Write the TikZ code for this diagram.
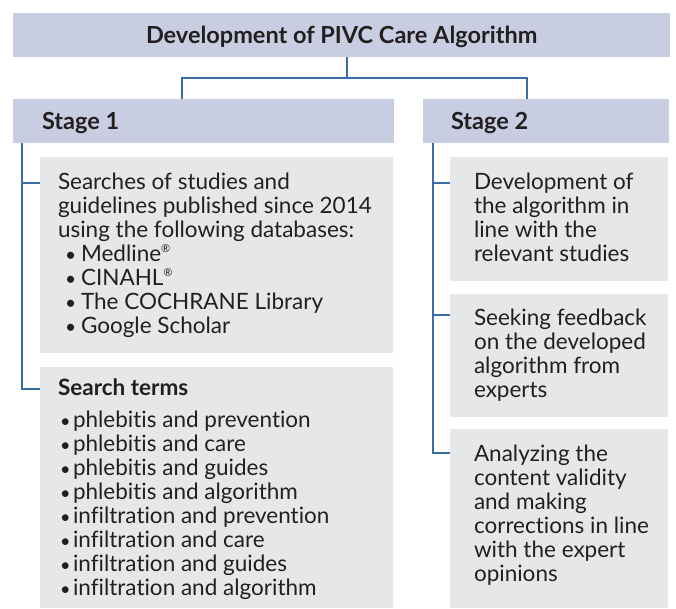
\documentclass[tikz,border=0pt]{standalone}
\usepackage{fontspec}
\setmainfont{Lato}[Ligatures={NoCommon,NoDiscretionary,NoContextual}]
\definecolor{hdr}{HTML}{C8CDE2}
\definecolor{gbox}{HTML}{E6E7E9}
\definecolor{lnk}{HTML}{3A6EA5}
\definecolor{txt}{HTML}{231F20}
\newcommand{\dbul}{\makebox[23pt][l]{\hspace{7pt}\scalebox{0.85}{•}}}
\newcommand{\sbul}{\makebox[15pt][l]{\hspace{2pt}\scalebox{0.8}{•}}}
\newcommand{\regm}{\raisebox{0.75ex}{\fontsize{11}{12}\selectfont ®}}
\begin{document}
\begin{tikzpicture}[x=1pt,y=-1pt,
  hdrbox/.style={fill=hdr,draw=none,inner sep=0pt,outer sep=0pt},
  graybox/.style={fill=gbox,draw=none,inner sep=0pt,outer sep=0pt},
  bodytext/.style={inner sep=0pt,outer sep=0pt,anchor=base west,align=left,text=txt,
    font=\fontsize{22.5}{24}\selectfont},
  headtext/.style={inner sep=0pt,outer sep=0pt,anchor=base west,text=txt,
    font=\fontsize{23.5}{24}\selectfont\bfseries},
  link/.style={draw=lnk,line width=1.1pt}]
\useasboundingbox (0,0) rectangle (676,608);
% boxes
\node[hdrbox,minimum width=657pt,minimum height=44pt] (top) at (341.5,35) {};
\node[hdrbox,minimum width=381pt,minimum height=44pt] (s1) at (203.5,121) {};
\node[hdrbox,minimum width=246pt,minimum height=44pt] (s2) at (546,121) {};
\node[graybox,minimum width=353pt,minimum height=196pt] (b1) at (216.5,255) {};
\node[graybox,minimum width=353pt,minimum height=241pt] (b2) at (216.5,487.5) {};
\node[graybox,minimum width=218pt,minimum height=124pt] (c1) at (559,219) {};
\node[graybox,minimum width=218pt,minimum height=123pt] (c2) at (559,355.5) {};
\node[graybox,minimum width=218pt,minimum height=179pt] (c3) at (559,518.5) {};
% texts (base anchor = baseline of the last line)
\node[headtext] (ttop) at (146,43) {Development of PIVC Care Algorithm};
\node[headtext] (ts1) at (42,129) {Stage 1};
\node[headtext] (ts2) at (451,129) {Stage 2};
\node[bodytext] (tb1) at (58,333) {Searches of studies and\\guidelines published since 2014\\using the following databases:\\
\dbul Medline\regm\\\dbul CINAHL\regm\\\dbul The COCHRANE Library\\\dbul Google Scholar};
\node[bodytext] (tb2h) at (58,395) {\bfseries Search terms};
\node[bodytext] (tb2) at (58,595) {\sbul phlebitis and prevention\\\sbul phlebitis and care\\\sbul phlebitis and guides\\\sbul phlebitis and algorithm\\
\sbul infiltration and prevention\\\sbul infiltration and care\\\sbul infiltration and guides\\\sbul infiltration and algorithm};
\node[bodytext] (tc1) at (474,261) {Development of\\the algorithm in\\line with the\\relevant studies};
\node[bodytext] (tc2) at (474,397) {Seeking feedback\\on the developed\\algorithm from\\experts};
\node[bodytext] (tc3) at (474,581) {Analyzing the\\content validity\\and making\\corrections in line\\with the expert\\opinions};
% connectors
\coordinate (jn) at (347,78);
\coordinate (j1) at (182,78);
\coordinate (j2) at (527,78);
\draw[link] (top.south -| jn) -- (jn);
\draw[link] (s1.north -| j1) |- (j2) -- (s2.north -| j2);
\coordinate (t1) at (22,0);
\coordinate (b1in) at (40,183);
\coordinate (b2in) at (40,389);
\draw[link] (s1.south -| t1) |- (b2in);
\draw[link] (t1 |- b1in) -- (b1in);
\coordinate (t2) at (433,0);
\coordinate (c1in) at (450,183);
\coordinate (c2in) at (450,315);
\coordinate (c3in) at (450,453);
\draw[link] (s2.south -| t2) |- (c3in);
\draw[link] (t2 |- c1in) -- (c1in);
\draw[link] (t2 |- c2in) -- (c2in);
\end{tikzpicture}
\end{document}
